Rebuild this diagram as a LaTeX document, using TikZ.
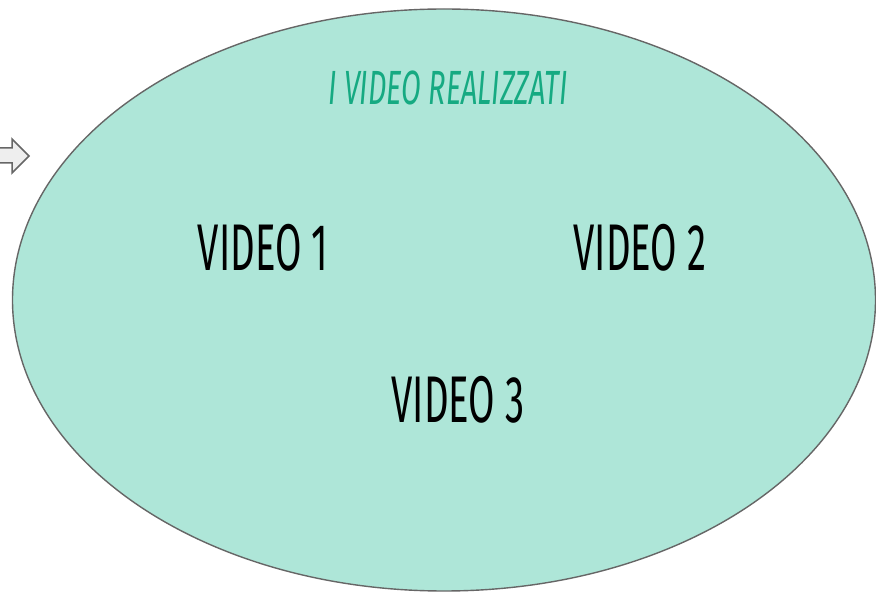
\documentclass[tikz,border=0pt]{standalone}
\usepackage{fontspec}
\newfontfamily\videofont{Fira Sans}
\usepackage{tikz}

\definecolor{mintfill}{RGB}{174,230,216}
\definecolor{titlegreen}{RGB}{22,170,130}
\definecolor{edgegray}{RGB}{102,102,102}
\definecolor{arrowfill}{RGB}{238,238,238}

\tikzset{
  videolabel/.style={inner sep=0pt,font=\videofont\fontsize{66}{70}\selectfont},
  titlelabel/.style={inner sep=0pt,text=titlegreen,font=\videofont\itshape\fontsize{48}{52}\selectfont}
}

\begin{document}
\begin{tikzpicture}[x=1pt,y=1pt,yscale=-1,xscale=1]
\useasboundingbox (0,0) rectangle (876,593);

%Shape: Right Arrow
\draw [color=edgegray, fill=arrowfill, line width=1.5] (-5,148) -- (12,148) -- (12,139) -- (29,156) -- (12,173) -- (12,163) -- (-5,163) -- cycle ;
%Shape: Ellipse
\draw [color=edgegray, fill=mintfill, line width=1.4] (444,300) ellipse [x radius=431.5, y radius=291] ;

% Text Node
\node (title) [titlelabel] at (448,88) {\scalebox{0.6}[1]{I VIDEO REALIZZATI}};
% Text Node
\node (video1) [videolabel] at (263,248) {\scalebox{0.58}[1]{VIDEO 1}};
% Text Node
\node (video2) [videolabel] at (640,248) {\scalebox{0.58}[1]{VIDEO 2}};
% Text Node
\node (video3) [videolabel] at (458,400) {\scalebox{0.58}[1]{VIDEO 3}};

\end{tikzpicture}
\end{document}
